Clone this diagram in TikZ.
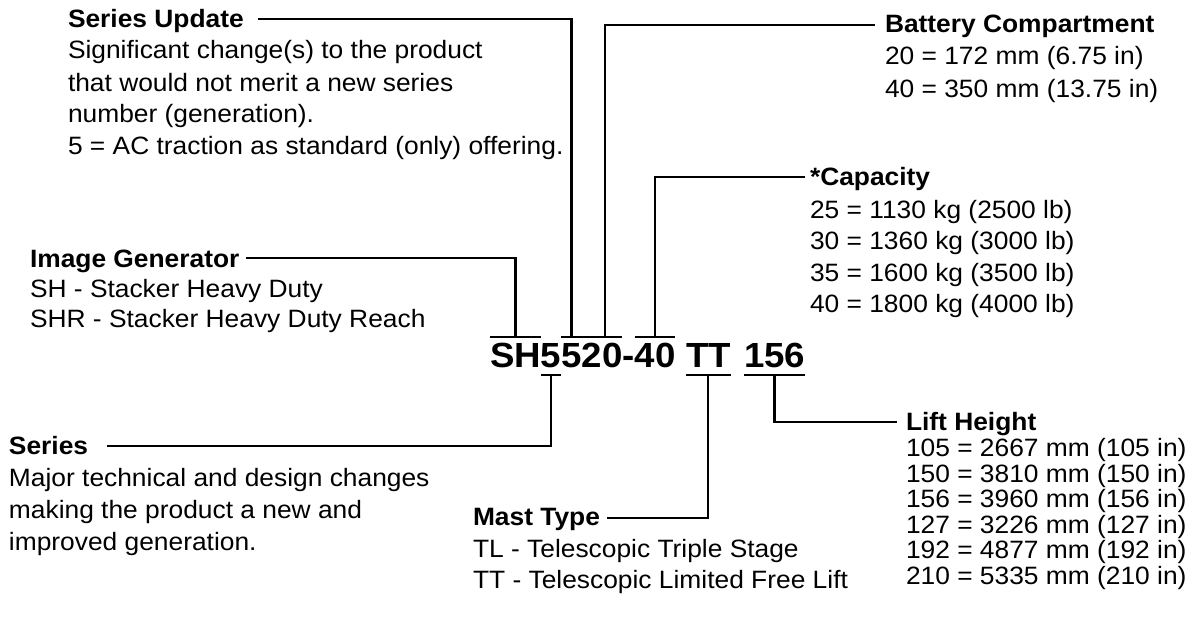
\documentclass[tikz,border=0pt]{standalone}
\usepackage{fontspec}
\setmainfont{Liberation Sans}[FakeStretch=1.05]
\begin{document}
\begin{tikzpicture}[x=1pt,y=-1pt,
  hd/.style={font=\fontsize{25.1}{30}\selectfont\bfseries,anchor=base west,inner sep=0pt,outer sep=0pt},
  bd/.style={font=\fontsize{25.1}{30}\selectfont,anchor=base west,inner sep=0pt,outer sep=0pt},
  cd/.style={font=\fontsize{34.9}{40}\selectfont\bfseries,anchor=base west,inner sep=0pt,outer sep=0pt},
  ln/.style={line width=2.2pt}]
\useasboundingbox (0,0) rectangle (1191,626);

% ---- model code ----
\node[cd] (cSH) at (490,367) {SH};
\node[cd] (c5a) at (cSH.base east) {5};
\node[cd] (c5b) at (c5a.base east) {5};
\node[cd] (c20) at (c5b.base east) {20};
\node[cd] (cdash) at (c20.base east) {-};
\node[cd] (c40) at (cdash.base east) {40};
\node[cd] (cTT) at (686,367) {TT};
\node[cd] (c156) at (744,367) {156};

% ---- Series Update ----
\node[hd] (suH) at (68,28) {Series Update};
\node[bd] (su1) at (68,59) {Significant change(s) to the product};
\node[bd] (su2) at (68,91) {that would not merit a new series};
\node[bd] (su3) at (68,122) {number (generation).};
\node[bd] (su4) at (68,154) {5 = AC traction as standard (only) offering.};

% ---- Battery Compartment ----
\node[hd] (bcH) at (885,33) {Battery Compartment};
\node[bd] (bc1) at (885,65) {20 = 172 mm (6.75 in)};
\node[bd] (bc2) at (885,97) {40 = 350 mm (13.75 in)};

% ---- Capacity ----
\node[hd] (caH) at (810,185) {*Capacity};
\node[bd] (ca1) at (810,218) {25 = 1130 kg (2500 lb)};
\node[bd] (ca2) at (810,249.5) {30 = 1360 kg (3000 lb)};
\node[bd] (ca3) at (810,281) {35 = 1600 kg (3500 lb)};
\node[bd] (ca4) at (810,312.5) {40 = 1800 kg (4000 lb)};

% ---- Image Generator ----
\node[hd] (igH) at (30,267) {Image Generator};
\node[bd] (ig1) at (30,297) {SH - Stacker Heavy Duty};
\node[bd] (ig2) at (30,327) {SHR - Stacker Heavy Duty Reach};

% ---- Series ----
\node[hd] (srH) at (9,454) {Series};
\node[bd] (sr1) at (9,486) {Major technical and design changes};
\node[bd] (sr2) at (9,518) {making the product a new and};
\node[bd] (sr3) at (9,550) {improved generation.};

% ---- Mast Type ----
\node[hd] (mtH) at (473,525) {Mast Type};
\node[bd] (mt1) at (473,557) {TL - Telescopic Triple Stage};
\node[bd] (mt2) at (473,588) {TT - Telescopic Limited Free Lift};

% ---- Lift Height ----
\node[hd] (lhH) at (906,430) {Lift Height};
\node[bd] (lh1) at (906,456.5) {105 = 2667 mm (105 in)};
\node[bd] (lh2) at (906,482) {150 = 3810 mm (150 in)};
\node[bd] (lh3) at (906,507.5) {156 = 3960 mm (156 in)};
\node[bd] (lh4) at (906,533) {127 = 3226 mm (127 in)};
\node[bd] (lh5) at (906,558.5) {192 = 4877 mm (192 in)};
\node[bd] (lh6) at (906,584) {210 = 5335 mm (210 in)};

% ---- connector free ends ----
\coordinate (igEnd) at (246,258);
\coordinate (suEnd) at (258,19);
\coordinate (bcEnd) at (875,25);
\coordinate (caEnd) at (805,177);
\coordinate (srEnd) at (107,446);
\coordinate (mtEnd) at (607,518);
\coordinate (lhEnd) at (897,422);

% ---- underlines ----
\foreach \n in {cSH,c5b,c20,c40}
  \draw[ln] ([yshift=30pt]\n.base west) -- ([yshift=30pt]\n.base east);
\foreach \n in {c5a,cTT,c156}
  \draw[ln] ([yshift=-8pt]\n.base west) -- ([yshift=-8pt]\n.base east);

% ---- connectors ----
\draw[ln] ([yshift=30pt]cSH.base) |- (igEnd);
\draw[ln] ([yshift=30pt]c5b.base) |- (suEnd);
\draw[ln] ([xshift=3pt,yshift=30pt]c20.base) |- (bcEnd);
\draw[ln] ([yshift=30pt]c40.base) |- (caEnd);
\draw[ln] ([yshift=-8pt]c5a.base) |- (srEnd);
\draw[ln] ([yshift=-8pt]cTT.base) |- (mtEnd);
\draw[ln] ([yshift=-8pt]c156.base) |- (lhEnd);
\end{tikzpicture}
\end{document}
